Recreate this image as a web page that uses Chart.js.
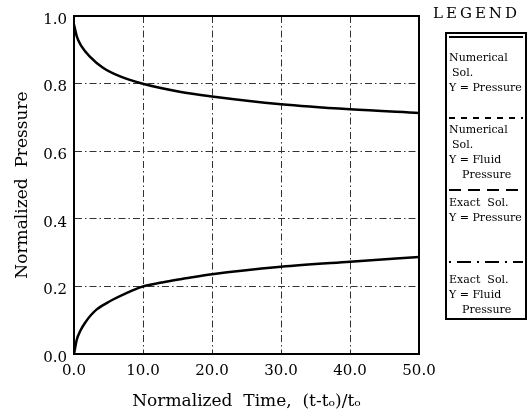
<!DOCTYPE html>
<html>
<head>
<meta charset="utf-8">
<script src="https://cdn.jsdelivr.net/npm/chart.js@4.4.1/dist/chart.umd.min.js"></script>
<style>
  html, body { margin: 0; padding: 0; background: #fff; }
  #wrap { position: relative; width: 528px; height: 420px; font-family: "DejaVu Serif", serif; color: #000; }
  #chart { position: absolute; left: 0; top: 0; }
  #legendTitle { position: absolute; left: 433px; top: 4px; font-size: 15px; letter-spacing: 3px; }
  #legendBox { position: absolute; left: 445px; top: 32px; width: 82px; height: 288px; border: 2px solid #000; box-sizing: border-box; }
  .sample { position: absolute; left: 449px; height: 4px; line-height: 0; }
  .sample svg { display: block; }
  .entry { position: absolute; left: 449px; font-size: 11px; line-height: 15px; white-space: pre; }
</style>
</head>
<body>
<div id="wrap">
  <canvas id="chart" width="528" height="420"></canvas>
  <div id="legendTitle">LEGEND</div>
  <div id="legendBox"></div>
</div>
<script>
// values
const timeP = [0, 0.4, 1.1, 2.3, 4.2, 6.6, 9.7, 15.3, 20, 30, 40, 50];
const pressure = [0.975, 0.94, 0.91, 0.88, 0.847, 0.822, 0.801, 0.776, 0.762, 0.739, 0.724, 0.713];
const timeF = [0, 0.4, 0.9, 1.8, 2.5, 3.3, 5.2, 7.6, 9.7, 13.3, 16.2, 20, 30, 40, 50];
const fluidPressure = [0.0, 0.042, 0.068, 0.098, 0.116, 0.132, 0.156, 0.18, 0.198, 0.214, 0.224, 0.236, 0.258, 0.273, 0.287];
const xTicks = [0, 10, 20, 30, 40, 50];
const yTicks = [0, 0.2, 0.4, 0.6, 0.8, 1.0];

// legend: text lines (with indent), dash pattern, positions
const legendEntries = [
  { lines: [['Numerical', 0], ['Sol.', 3], ['Y = Pressure', 0]], dash: '', lineY: 37, textY: 50 },
  { lines: [['Numerical', 0], ['Sol.', 3], ['Y = Fluid', 0], ['Pressure', 13]], dash: '6 6', lineY: 118, textY: 122 },
  { lines: [['Exact  Sol.', 0], ['Y = Pressure', 0]], dash: '12 7', lineY: 190, textY: 195 },
  { lines: [['Exact  Sol.', 0], ['Y = Fluid', 0], ['Pressure', 13]], dash: '2 6 14 6', lineY: 262, textY: 272 }
];

const wrap = document.getElementById('wrap');
legendEntries.forEach(e => {
  const s = document.createElement('div');
  s.className = 'sample';
  s.style.top = (e.lineY - 2) + 'px';
  s.innerHTML = '<svg width="74" height="4"><line x1="0" y1="2" x2="74" y2="2" stroke="#000" stroke-width="2"' +
    (e.dash ? ' stroke-dasharray="' + e.dash + '"' : '') + '/></svg>';
  wrap.appendChild(s);
  const t = document.createElement('div');
  t.className = 'entry';
  t.style.top = e.textY + 'px';
  t.innerHTML = e.lines.map(l => '<div style="padding-left:' + l[1] + 'px">' + l[0] + '</div>').join('');
  wrap.appendChild(t);
});

Chart.defaults.font.family = '"DejaVu Serif", serif';
Chart.defaults.color = '#000';

const frame = {
  id: 'frame',
  afterDraw(chart) {
    const { ctx, chartArea: a } = chart;
    ctx.save();
    ctx.strokeStyle = '#000';
    ctx.lineWidth = 2;
    ctx.strokeRect(a.left, a.top, a.right - a.left, a.bottom - a.top);
    ctx.restore();
  }
};

const gridDash = [7, 3, 1.5, 3];

new Chart(document.getElementById('chart').getContext('2d'), {
  type: 'line',
  data: {
    datasets: [
      {
        label: 'Numerical Sol. Y = Pressure',
        data: timeP.map((t, i) => ({ x: t, y: pressure[i] })),
        borderColor: '#000',
        borderWidth: 2.5,
        pointRadius: 0,
        cubicInterpolationMode: 'monotone',
        fill: false
      },
      {
        label: 'Numerical Sol. Y = Fluid Pressure',
        data: timeF.map((t, i) => ({ x: t, y: fluidPressure[i] })),
        borderColor: '#000',
        borderWidth: 2.5,
        pointRadius: 0,
        cubicInterpolationMode: 'monotone',
        fill: false
      }
    ]
  },
  options: {
    responsive: false,
    animation: false,
    layout: { padding: { top: 15, right: 109, bottom: 6, left: 8 } },
    plugins: { legend: { display: false }, tooltip: { enabled: false } },
    scales: {
      x: {
        type: 'linear',
        min: xTicks[0],
        max: xTicks[xTicks.length - 1],
        afterBuildTicks: s => { s.ticks = xTicks.map(v => ({ value: v })); },
        ticks: { callback: v => v.toFixed(1), padding: 8, font: { size: 15 } },
        grid: { color: '#333', lineWidth: 1, drawTicks: false },
        border: { color: '#000', width: 2, dash: gridDash },
        title: {
          display: true,
          text: 'Normalized  Time,  (t-tₒ)/tₒ',
          font: { size: 17 },
          padding: { top: 0, bottom: 2 }
        },
        afterFit: s => { s.height = 60; }
      },
      y: {
        min: yTicks[0],
        max: yTicks[yTicks.length - 1],
        afterBuildTicks: s => { s.ticks = yTicks.map(v => ({ value: v })); },
        ticks: { callback: v => v.toFixed(1), padding: 7, labelOffset: 4, font: { size: 15 } },
        grid: { color: '#333', lineWidth: 1, drawTicks: false },
        border: { color: '#000', width: 2, dash: gridDash },
        title: {
          display: true,
          text: 'Normalized  Pressure',
          font: { size: 17 },
          padding: { top: 4, bottom: 0 }
        },
        afterFit: s => { s.width = 66; }
      }
    }
  },
  plugins: [frame]
});
</script>
</body>
</html>
